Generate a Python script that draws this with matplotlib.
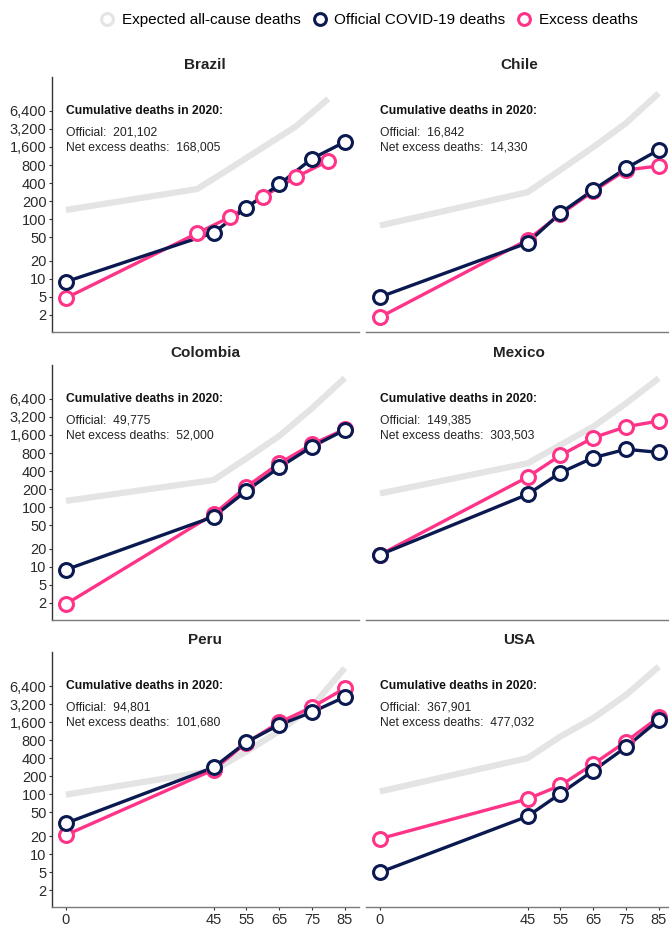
import matplotlib
matplotlib.use("Agg")
import matplotlib.pyplot as plt
from matplotlib.lines import Line2D
from matplotlib.ticker import FixedLocator, FuncFormatter, NullLocator

plt.rcParams['font.family'] = ['Liberation Sans', 'DejaVu Sans']

# ---- data -------------------------------------------------------------
countries = ["Brazil", "Chile", "Colombia", "Mexico", "Peru", "USA"]

# age-group starting points (Brazil excess / expected use 10-year bands from 40)
ages_std = [0, 45, 55, 65, 75, 85]
ages_brazil_alt = [0, 40, 50, 60, 70, 80]

official = {
    "Brazil":   [9, 59, 155, 380, 1020, 1940],
    "Chile":    [5, 40, 126, 307, 706, 1430],
    "Colombia": [9, 69, 187, 460, 1020, 1940],
    "Mexico":   [16, 163, 375, 667, 925, 820],
    "Peru":     [33, 282, 746, 1450, 2360, 4240],
    "USA":      [5, 43, 103, 248, 615, 1750],
}
excess = {
    "Brazil":   [4.8, 58, 108, 234, 500, 937],
    "Chile":    [2.3, 45, 120, 290, 660, 772],
    "Colombia": [2.4, 76, 218, 538, 1117, 2000],
    "Mexico":   [16, 317, 731, 1440, 2200, 2740],
    "Peru":     [21, 258, 730, 1590, 2860, 5900],
    "USA":      [18.2, 84, 141, 320, 762, 1945],
}
expected = {
    "Brazil":   [142, 318, 700, 1570, 3500, 10200],
    "Chile":    [78, 281, 662, 1590, 4000, 12650],
    "Colombia": [127, 283, 650, 1540, 4470, 14300],
    "Mexico":   [169, 538, 1090, 2200, 5400, 14200],
    "Peru":     [99, 251, 520, 1140, 2920, 12900],
    "USA":      [112, 403, 925, 1875, 4570, 13600],
}
cum_official = {"Brazil": "201,102", "Chile": "16,842", "Colombia": "49,775",
                "Mexico": "149,385", "Peru": "94,801", "USA": "367,901"}
cum_excess = {"Brazil": "168,005", "Chile": "14,330", "Colombia": "52,000",
              "Mexico": "303,503", "Peru": "101,680", "USA": "477,032"}

y_breaks = [2.5, 5, 10, 20, 50, 100, 200, 400, 800, 1600, 3200, 6400]
x_breaks = [0, 45, 55, 65, 75, 85]

# ---- style ------------------------------------------------------------
NAVY = "#0a1950"
PINK = "#ff3388"
GREY = "#e4e4e4"
W, H = 669, 926

fig = plt.figure(figsize=(W / 100, H / 100), dpi=100)

col_left = [52 / W, 366 / W]
ax_w = 306.7 / W
ax_h = 255 / H
row_bottom = [1 - 331.7 / H, 1 - 619.7 / H, 1 - 907 / H]

for i, c in enumerate(countries):
    r, col = divmod(i, 2)
    ax = fig.add_axes([col_left[col], row_bottom[r], ax_w, ax_h])
    alt = ages_brazil_alt if c == "Brazil" else ages_std

    ax.plot(alt, expected[c], color=GREY, lw=4.5, solid_capstyle='butt', zorder=1)
    ax.plot(alt, excess[c], color=PINK, lw=2.4, zorder=2)
    ax.plot(ages_std, official[c], color=NAVY, lw=2.4, zorder=3)
    ax.plot(alt, excess[c], ls='none', marker='o', ms=10, mfc='white',
            mec=PINK, mew=2.2, zorder=4)
    ax.plot(ages_std, official[c], ls='none', marker='o', ms=10, mfc='white',
            mec=NAVY, mew=2.2, zorder=5)

    ax.set_yscale('log')
    ax.set_ylim(1.315, 23900)
    ax.set_xlim(-4.25, 89.25)
    ax.yaxis.set_major_locator(FixedLocator(y_breaks))
    ax.yaxis.set_minor_locator(NullLocator())
    ax.yaxis.set_major_formatter(FuncFormatter(lambda v, p: f"{v:,.0f}"))
    ax.xaxis.set_major_locator(FixedLocator(x_breaks))

    for s in ['top', 'right']:
        ax.spines[s].set_visible(False)
    ax.spines['bottom'].set_color('#7a7a7a')
    ax.spines['bottom'].set_linewidth(1.0)
    ax.spines['left'].set_color('#333333')
    ax.spines['left'].set_linewidth(1.0)

    ax.tick_params(axis='both', labelsize=10.5, labelcolor='#2b2b2b',
                   color='#333333', length=2.5, width=0.8, pad=1.5)
    if col == 1:
        ax.spines['left'].set_visible(False)
        ax.tick_params(axis='y', left=False, labelleft=False)
    if r < 2:
        ax.tick_params(axis='x', bottom=False, labelbottom=False)

    ax.text(0.5, 1 + 11.7 / 255, c, transform=ax.transAxes, ha='center',
            va='center', fontsize=11, fontweight='bold', color='#222222')

    ax.annotate("Cumulative deaths in 2020:", xy=(0, 6400), ha='left',
                va='center', fontsize=8.7, fontweight='bold', color='#111111')
    ax.annotate(f"Official:  {cum_official[c]}", xy=(0, 6400),
                xytext=(0, -15.6), textcoords='offset points', ha='left',
                va='center', fontsize=8.7, color='#222222')
    ax.annotate(f"Net excess deaths:  {cum_excess[c]}", xy=(0, 6400),
                xytext=(0, -26.1), textcoords='offset points', ha='left',
                va='center', fontsize=8.7, color='#222222')

handles = [
    Line2D([], [], ls='none', marker='o', ms=8.5, mfc='white', mec=m, mew=2.2)
    for m in (GREY, NAVY, PINK)
]
labels = ["Expected all-cause deaths", "Official COVID-19 deaths", "Excess deaths"]
fig.legend(handles, labels, loc='center', bbox_to_anchor=(0.551, 1 - 20 / H),
           ncol=3, frameon=False, fontsize=11, handletextpad=0.45,
           columnspacing=0.75, handlelength=1.0, borderpad=0.2)

fig.savefig("out.png", dpi=100)
